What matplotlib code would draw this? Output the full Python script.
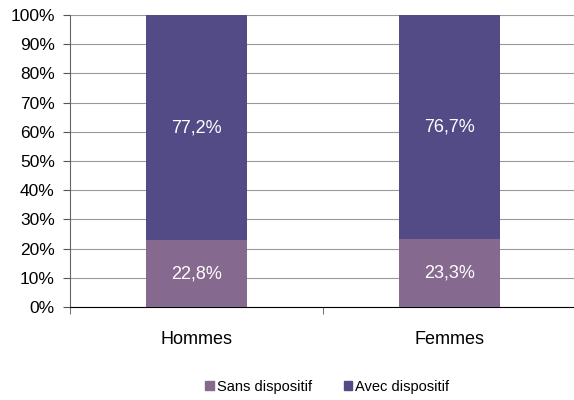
import matplotlib.pyplot as plt
from matplotlib.patches import Patch

plt.rcParams['font.family'] = ['Liberation Sans', 'DejaVu Sans']

categories = ["Hommes", "Femmes"]
sans = [22.8, 23.3]
avec = [77.2, 76.7]
labels_sans = ["22,8%", "23,3%"]
labels_avec = ["77,2%", "76,7%"]
yticks = [0, 10, 20, 30, 40, 50, 60, 70, 80, 90, 100]

c_sans = "#85698F"
c_avec = "#534B85"

fig = plt.figure(figsize=(5.74, 4.0), dpi=100)
ax = fig.add_axes([0.122, 0.2325, 0.882, 0.73])

x = list(range(len(categories)))
ax.bar(x, sans, width=0.4, color=c_sans, zorder=3)
ax.bar(x, avec, width=0.4, bottom=sans, color=c_avec, zorder=3)

for i in x:
    ax.text(i, sans[i] / 2, labels_sans[i], ha="center", va="center",
            color="white", fontsize=13, zorder=4)
    ax.text(i, sans[i] + avec[i] / 2, labels_avec[i], ha="center", va="center",
            color="white", fontsize=13, zorder=4)

ax.set_xlim(-0.5, 1.5)
ax.set_ylim(0, 100)
ax.set_yticks(yticks)
ax.set_yticklabels([f"{t}%" for t in yticks], fontsize=12.5)
ax.yaxis.grid(True, color="#999999", linewidth=0.8, zorder=0)

# category labels centred, ticks at the boundaries
ax.set_xticks(x)
ax.set_xticklabels(categories, fontsize=13)
ax.tick_params(axis="x", length=0, pad=17)
ax.set_xticks([-0.5, 0.5, 1.5], minor=True)
ax.tick_params(axis="x", which="minor", length=5, color="#555555")
ax.tick_params(axis="y", length=5, color="#555555", pad=6)

ax.spines["top"].set_visible(False)
ax.spines["right"].set_visible(False)
ax.spines["left"].set_color("#666666")
ax.spines["bottom"].set_color("black")

handles = [Patch(color=c_sans, label="Sans dispositif"),
           Patch(color=c_avec, label="Avec dispositif")]
fig.legend(handles=handles, loc="center", bbox_to_anchor=(0.57, 0.0325),
           ncol=2, frameon=False, fontsize=10.5, handlelength=0.6,
           handleheight=0.6, handletextpad=0.2, columnspacing=2.2)

fig.savefig("out.png", dpi=100)
